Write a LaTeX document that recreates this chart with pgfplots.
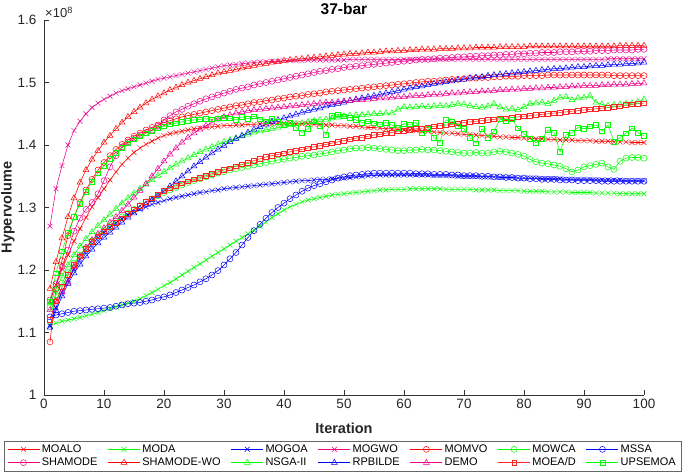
\documentclass[border=0pt]{standalone}
\usepackage{pgfplots}
\usepackage{pgfplotstable}
\usepackage{fontspec}
\setmainfont{Liberation Sans}
\pgfplotsset{compat=1.18}

\pgfplotstableread{
it moalo momvo shwo moead
1 1.150 1.085 1.170 1.120
2 1.176 1.170 1.213 1.150
3 1.201 1.215 1.251 1.173
4 1.224 1.255 1.285 1.192
5 1.246 1.285 1.315 1.208
6 1.266 1.308 1.340 1.222
7 1.284 1.328 1.360 1.234
8 1.301 1.345 1.377 1.245
9 1.316 1.360 1.391 1.254
10 1.330 1.372 1.404 1.262
11 1.344 1.383 1.415 1.269
12 1.357 1.393 1.426 1.276
13 1.369 1.401 1.436 1.283
14 1.379 1.408 1.445 1.290
15 1.388 1.414 1.453 1.297
16 1.395 1.419 1.460 1.303
17 1.401 1.424 1.467 1.309
18 1.406 1.428 1.473 1.315
19 1.411 1.432 1.478 1.321
20 1.415 1.436 1.483 1.327
21 1.418 1.439 1.488 1.331
22 1.420 1.442 1.492 1.335
23 1.422 1.445 1.496 1.339
24 1.424 1.447 1.500 1.342
25 1.426 1.449 1.503 1.345
26 1.427 1.451 1.506 1.348
27 1.428 1.453 1.509 1.351
28 1.429 1.455 1.512 1.354
29 1.430 1.457 1.515 1.357
30 1.431 1.459 1.517 1.360
31 1.431 1.461 1.519 1.363
32 1.432 1.463 1.521 1.366
33 1.432 1.464 1.523 1.369
34 1.433 1.466 1.525 1.372
35 1.433 1.468 1.527 1.375
36 1.434 1.469 1.529 1.378
37 1.434 1.471 1.530 1.381
38 1.434 1.472 1.532 1.383
39 1.435 1.474 1.533 1.385
40 1.435 1.475 1.535 1.387
41 1.435 1.477 1.536 1.389
42 1.434 1.478 1.537 1.391
43 1.434 1.479 1.538 1.393
44 1.434 1.481 1.539 1.395
45 1.433 1.482 1.540 1.397
46 1.433 1.483 1.541 1.399
47 1.432 1.485 1.542 1.401
48 1.432 1.486 1.543 1.403
49 1.431 1.487 1.544 1.405
50 1.431 1.488 1.545 1.407
51 1.430 1.489 1.546 1.409
52 1.430 1.490 1.546 1.411
53 1.429 1.491 1.547 1.412
54 1.428 1.492 1.548 1.414
55 1.428 1.493 1.548 1.416
56 1.427 1.494 1.549 1.417
57 1.426 1.495 1.550 1.419
58 1.426 1.496 1.550 1.420
59 1.425 1.497 1.551 1.422
60 1.424 1.498 1.551 1.423
61 1.424 1.499 1.552 1.424
62 1.423 1.500 1.552 1.426
63 1.422 1.501 1.553 1.427
64 1.422 1.502 1.553 1.428
65 1.421 1.502 1.553 1.430
66 1.420 1.503 1.554 1.431
67 1.419 1.504 1.554 1.432
68 1.419 1.505 1.554 1.433
69 1.418 1.505 1.555 1.435
70 1.417 1.506 1.555 1.436
71 1.417 1.507 1.555 1.437
72 1.416 1.507 1.556 1.438
73 1.415 1.508 1.556 1.439
74 1.415 1.508 1.556 1.440
75 1.414 1.509 1.556 1.441
76 1.413 1.509 1.557 1.442
77 1.413 1.510 1.557 1.443
78 1.412 1.510 1.557 1.444
79 1.412 1.510 1.557 1.445
80 1.411 1.511 1.557 1.446
81 1.411 1.511 1.558 1.447
82 1.410 1.511 1.558 1.448
83 1.410 1.511 1.558 1.449
84 1.409 1.512 1.558 1.450
85 1.409 1.512 1.558 1.451
86 1.408 1.512 1.558 1.452
87 1.408 1.512 1.558 1.453
88 1.408 1.512 1.558 1.454
89 1.407 1.512 1.558 1.455
90 1.407 1.512 1.558 1.456
91 1.407 1.512 1.558 1.457
92 1.406 1.512 1.558 1.458
93 1.406 1.512 1.558 1.459
94 1.406 1.512 1.558 1.460
95 1.405 1.511 1.558 1.461
96 1.405 1.511 1.559 1.462
97 1.405 1.511 1.559 1.464
98 1.404 1.511 1.559 1.465
99 1.404 1.511 1.559 1.466
100 1.404 1.511 1.559 1.467
}\tabred

\pgfplotstableread{
it moda mowca nsga upse
1 1.112 1.140 1.147 1.150
2 1.115 1.160 1.170 1.195
3 1.118 1.179 1.190 1.230
4 1.120 1.196 1.208 1.260
5 1.122 1.211 1.224 1.285
6 1.124 1.224 1.238 1.306
7 1.127 1.236 1.250 1.325
8 1.129 1.246 1.261 1.341
9 1.132 1.255 1.271 1.355
10 1.135 1.263 1.280 1.367
11 1.138 1.271 1.289 1.378
12 1.141 1.278 1.298 1.388
13 1.144 1.285 1.307 1.396
14 1.147 1.291 1.315 1.403
15 1.150 1.297 1.323 1.409
16 1.154 1.303 1.330 1.414
17 1.159 1.309 1.337 1.419
18 1.164 1.314 1.344 1.423
19 1.169 1.319 1.351 1.427
20 1.175 1.324 1.357 1.430
21 1.180 1.328 1.363 1.433
22 1.186 1.332 1.369 1.435
23 1.192 1.336 1.374 1.437
24 1.198 1.340 1.379 1.439
25 1.204 1.343 1.384 1.440
26 1.210 1.346 1.389 1.441
27 1.216 1.349 1.393 1.442
28 1.222 1.352 1.397 1.441
29 1.228 1.355 1.401 1.443
30 1.234 1.357 1.405 1.444
31 1.240 1.360 1.408 1.443
32 1.246 1.362 1.411 1.440
33 1.252 1.364 1.414 1.445
34 1.258 1.366 1.417 1.442
35 1.264 1.368 1.420 1.446
36 1.270 1.370 1.422 1.441
37 1.277 1.372 1.424 1.438
38 1.284 1.374 1.426 1.443
39 1.290 1.376 1.428 1.437
40 1.296 1.377 1.430 1.432
41 1.301 1.379 1.432 1.436
42 1.305 1.380 1.434 1.428
43 1.309 1.382 1.435 1.420
44 1.312 1.383 1.437 1.426
45 1.314 1.384 1.439 1.438
46 1.316 1.386 1.440 1.431
47 1.318 1.387 1.441 1.416
48 1.320 1.389 1.443 1.447
49 1.321 1.391 1.444 1.449
50 1.322 1.392 1.446 1.446
51 1.323 1.394 1.447 1.444
52 1.324 1.395 1.448 1.440
53 1.325 1.395 1.448 1.436
54 1.326 1.396 1.449 1.438
55 1.327 1.395 1.450 1.435
56 1.328 1.394 1.450 1.433
57 1.328 1.393 1.451 1.436
58 1.329 1.392 1.451 1.432
59 1.329 1.391 1.457 1.428
60 1.329 1.391 1.461 1.434
61 1.330 1.392 1.460 1.433
62 1.330 1.392 1.461 1.436
63 1.330 1.393 1.462 1.419
64 1.330 1.392 1.461 1.426
65 1.330 1.392 1.462 1.412
66 1.330 1.391 1.463 1.404
67 1.329 1.390 1.462 1.440
68 1.329 1.389 1.464 1.438
69 1.329 1.388 1.466 1.430
70 1.329 1.387 1.465 1.426
71 1.329 1.387 1.463 1.412
72 1.328 1.388 1.461 1.403
73 1.328 1.387 1.460 1.426
74 1.328 1.387 1.462 1.412
75 1.328 1.389 1.466 1.422
76 1.327 1.390 1.461 1.441
77 1.327 1.389 1.457 1.438
78 1.327 1.387 1.458 1.441
79 1.327 1.385 1.456 1.427
80 1.326 1.382 1.461 1.418
81 1.326 1.377 1.466 1.410
82 1.326 1.373 1.467 1.404
83 1.326 1.371 1.468 1.410
84 1.325 1.370 1.466 1.424
85 1.325 1.368 1.471 1.420
86 1.325 1.366 1.476 1.389
87 1.325 1.362 1.477 1.416
88 1.324 1.357 1.472 1.420
89 1.324 1.360 1.475 1.428
90 1.324 1.365 1.476 1.426
91 1.324 1.367 1.479 1.430
92 1.323 1.369 1.468 1.432
93 1.323 1.371 1.465 1.422
94 1.323 1.365 1.463 1.432
95 1.323 1.361 1.464 1.405
96 1.322 1.374 1.465 1.412
97 1.322 1.379 1.466 1.419
98 1.322 1.380 1.467 1.427
99 1.322 1.380 1.469 1.420
100 1.322 1.379 1.473 1.415
}\tabgreen

\pgfplotstableread{
it mogoa mssa rpb
1 1.110 1.125 1.108
2 1.140 1.128 1.135
3 1.165 1.130 1.158
4 1.185 1.132 1.178
5 1.202 1.134 1.195
6 1.217 1.135 1.209
7 1.230 1.136 1.222
8 1.241 1.137 1.233
9 1.251 1.138 1.243
10 1.260 1.139 1.252
11 1.268 1.140 1.260
12 1.275 1.142 1.268
13 1.282 1.144 1.276
14 1.288 1.146 1.284
15 1.293 1.147 1.291
16 1.297 1.148 1.298
17 1.301 1.150 1.305
18 1.305 1.152 1.312
19 1.308 1.155 1.319
20 1.311 1.157 1.326
21 1.314 1.160 1.334
22 1.316 1.164 1.342
23 1.318 1.168 1.350
24 1.320 1.172 1.358
25 1.322 1.176 1.366
26 1.324 1.181 1.373
27 1.325 1.186 1.380
28 1.327 1.192 1.387
29 1.328 1.199 1.393
30 1.330 1.208 1.399
31 1.331 1.218 1.405
32 1.332 1.228 1.410
33 1.333 1.240 1.415
34 1.334 1.252 1.420
35 1.335 1.263 1.425
36 1.336 1.273 1.429
37 1.337 1.283 1.433
38 1.338 1.292 1.437
39 1.339 1.300 1.440
40 1.340 1.307 1.443
41 1.341 1.314 1.446
42 1.342 1.320 1.449
43 1.343 1.326 1.452
44 1.343 1.331 1.455
45 1.344 1.335 1.457
46 1.345 1.338 1.459
47 1.345 1.341 1.462
48 1.346 1.344 1.464
49 1.347 1.347 1.466
50 1.347 1.349 1.468
51 1.348 1.351 1.471
52 1.349 1.352 1.473
53 1.350 1.353 1.475
54 1.351 1.354 1.477
55 1.351 1.355 1.479
56 1.352 1.355 1.481
57 1.352 1.355 1.483
58 1.352 1.355 1.485
59 1.352 1.355 1.487
60 1.352 1.355 1.489
61 1.352 1.355 1.491
62 1.352 1.354 1.493
63 1.352 1.354 1.494
64 1.352 1.354 1.496
65 1.351 1.353 1.498
66 1.351 1.353 1.499
67 1.351 1.353 1.501
68 1.351 1.352 1.502
69 1.350 1.352 1.504
70 1.350 1.351 1.505
71 1.350 1.351 1.507
72 1.350 1.351 1.508
73 1.349 1.350 1.509
74 1.349 1.350 1.511
75 1.349 1.349 1.512
76 1.348 1.349 1.513
77 1.348 1.348 1.514
78 1.348 1.348 1.515
79 1.347 1.347 1.516
80 1.347 1.347 1.517
81 1.347 1.346 1.518
82 1.347 1.346 1.519
83 1.346 1.345 1.520
84 1.346 1.345 1.521
85 1.346 1.345 1.522
86 1.346 1.344 1.522
87 1.345 1.344 1.523
88 1.345 1.344 1.524
89 1.345 1.343 1.525
90 1.345 1.343 1.525
91 1.345 1.343 1.526
92 1.344 1.343 1.527
93 1.344 1.342 1.527
94 1.344 1.342 1.528
95 1.344 1.342 1.529
96 1.344 1.342 1.529
97 1.343 1.342 1.530
98 1.343 1.342 1.530
99 1.343 1.342 1.531
100 1.343 1.342 1.532
}\tabblue

\pgfplotstableread{
it mogwo shamode demo
1 1.270 1.152 1.136
2 1.330 1.178 1.150
3 1.367 1.205 1.165
4 1.400 1.232 1.180
5 1.423 1.262 1.205
6 1.438 1.283 1.222
7 1.450 1.297 1.236
8 1.460 1.308 1.248
9 1.467 1.322 1.258
10 1.473 1.343 1.267
11 1.478 1.365 1.276
12 1.483 1.383 1.285
13 1.487 1.397 1.295
14 1.490 1.405 1.305
15 1.493 1.411 1.316
16 1.496 1.416 1.327
17 1.499 1.420 1.338
18 1.502 1.424 1.350
19 1.505 1.430 1.362
20 1.507 1.440 1.374
21 1.509 1.447 1.385
22 1.511 1.453 1.395
23 1.513 1.457 1.404
24 1.515 1.462 1.412
25 1.517 1.466 1.419
26 1.519 1.470 1.425
27 1.521 1.474 1.431
28 1.523 1.477 1.436
29 1.525 1.480 1.441
30 1.527 1.483 1.445
31 1.528 1.486 1.448
32 1.529 1.489 1.451
33 1.530 1.491 1.453
34 1.531 1.493 1.455
35 1.532 1.496 1.456
36 1.533 1.498 1.457
37 1.533 1.500 1.458
38 1.534 1.502 1.459
39 1.534 1.504 1.460
40 1.535 1.506 1.461
41 1.535 1.508 1.462
42 1.535 1.510 1.463
43 1.535 1.512 1.464
44 1.536 1.514 1.465
45 1.536 1.516 1.466
46 1.536 1.518 1.467
47 1.536 1.519 1.468
48 1.536 1.521 1.468
49 1.536 1.522 1.469
50 1.536 1.524 1.470
51 1.537 1.525 1.471
52 1.537 1.526 1.472
53 1.537 1.527 1.472
54 1.537 1.528 1.473
55 1.537 1.529 1.474
56 1.537 1.530 1.475
57 1.537 1.531 1.475
58 1.537 1.532 1.476
59 1.537 1.533 1.477
60 1.537 1.534 1.477
61 1.537 1.535 1.478
62 1.537 1.536 1.479
63 1.537 1.537 1.479
64 1.537 1.537 1.480
65 1.537 1.538 1.481
66 1.537 1.539 1.481
67 1.537 1.539 1.482
68 1.537 1.540 1.483
69 1.537 1.541 1.483
70 1.537 1.541 1.484
71 1.537 1.542 1.485
72 1.537 1.542 1.485
73 1.537 1.543 1.486
74 1.537 1.543 1.486
75 1.537 1.544 1.487
76 1.537 1.544 1.488
77 1.537 1.545 1.488
78 1.537 1.545 1.489
79 1.537 1.546 1.489
80 1.537 1.546 1.490
81 1.537 1.547 1.490
82 1.537 1.547 1.491
83 1.537 1.548 1.491
84 1.537 1.548 1.492
85 1.537 1.548 1.492
86 1.537 1.549 1.493
87 1.537 1.549 1.493
88 1.537 1.549 1.494
89 1.537 1.550 1.494
90 1.537 1.550 1.495
91 1.537 1.550 1.495
92 1.537 1.551 1.495
93 1.537 1.551 1.496
94 1.538 1.551 1.496
95 1.538 1.552 1.497
96 1.538 1.552 1.497
97 1.538 1.552 1.497
98 1.538 1.552 1.498
99 1.538 1.553 1.498
100 1.538 1.553 1.499
}\tabmag

\begin{document}
\begin{tikzpicture}
\begin{axis}[
  name=ax,
  at={(0pt,0pt)}, anchor=south west,
  scale only axis,
  width=600pt, height=375pt,
  xmin=0, xmax=100, ymin=1, ymax=1.6,
  xtick={0,10,20,30,40,50,60,70,80,90,100},
  ytick={1,1.1,1.2,1.3,1.4,1.5,1.6},
  scaled y ticks=false,
  /pgf/number format/assume math mode=true,
  axis x line*=bottom, axis y line*=left,
  axis line style={black!80, line width=0.6pt, -},
  every outer x axis line/.append style={-},
  every outer y axis line/.append style={-},
  every inner x axis line/.append style={-},
  every inner y axis line/.append style={-},
  tick align=inside,
  major tick length=5pt,
  tick style={black!80, line width=0.6pt},
  ticklabel style={font=\fontsize{13.5}{14}\selectfont, text=black!85},
  yticklabel style={xshift=-4pt},
  xticklabel style={yshift=-1pt},
  xlabel={Iteration},
  ylabel={Hypervolume},
  xlabel style={font=\fontsize{14.5}{15}\selectfont\bfseries, text=black!85, at={(axis description cs:0.5,0)}, anchor=center, yshift=-33pt},
  ylabel style={font=\fontsize{14.5}{15}\selectfont\bfseries, text=black!85, at={(axis description cs:-0.06,0.5)}, anchor=center},
  title={37-bar},
  title style={font=\fontsize{15.5}{16}\selectfont\bfseries, at={(axis description cs:0.5,1)}, anchor=center, yshift=5pt},
  legend columns=7,
  legend cell align=left,
  legend style={at={(axis description cs:0.5,0)}, anchor=north, yshift=-46pt, xshift=-1.5pt,
    draw=black!60, line width=0.5pt, font=\fontsize{11}{12}\selectfont,
    inner xsep=3pt, inner ysep=1.5pt,
    /tikz/every even column/.append style={column sep=8.4pt}},
  legend image code/.code={\draw[mark repeat=2,mark phase=2] plot coordinates {(0pt,0pt) (16pt,0pt) (32pt,0pt)};},
  every axis plot/.append style={line width=0.55pt, mark options={solid, line width=0.5pt}},
]
\addplot[color=red, mark=x, mark size=3.5pt] table[x=it,y=moalo]{\tabred};
\addlegendentry{MOALO}
\addplot[color=green, mark=x, mark size=3.5pt] table[x=it,y=moda]{\tabgreen};
\addlegendentry{MODA}
\addplot[color=blue, mark=x, mark size=3.5pt] table[x=it,y=mogoa]{\tabblue};
\addlegendentry{MOGOA}
\addplot[color=magenta, mark=x, mark size=3.5pt] table[x=it,y=mogwo]{\tabmag};
\addlegendentry{MOGWO}
\addplot[color=red, mark=o, mark size=3pt] table[x=it,y=momvo]{\tabred};
\addlegendentry{MOMVO}
\addplot[color=green, mark=o, mark size=3pt] table[x=it,y=mowca]{\tabgreen};
\addlegendentry{MOWCA}
\addplot[color=blue, mark=o, mark size=3pt] table[x=it,y=mssa]{\tabblue};
\addlegendentry{MSSA}
\addplot[color=magenta, mark=o, mark size=3pt] table[x=it,y=shamode]{\tabmag};
\addlegendentry{SHAMODE}
\addplot[color=red, mark=triangle, mark size=3.4pt] table[x=it,y=shwo]{\tabred};
\addlegendentry{SHAMODE-WO}
\addplot[color=green, mark=triangle, mark size=3.4pt] table[x=it,y=nsga]{\tabgreen};
\addlegendentry{NSGA-II}
\addplot[color=blue, mark=triangle, mark size=3.4pt] table[x=it,y=rpb]{\tabblue};
\addlegendentry{RPBILDE}
\addplot[color=magenta, mark=triangle, mark size=3.4pt] table[x=it,y=demo]{\tabmag};
\addlegendentry{DEMO}
\addplot[color=red!85, mark=square, mark size=2.3pt] table[x=it,y=moead]{\tabred};
\addlegendentry{MOEA/D}
\addplot[color=green, mark=square, mark size=2.3pt] table[x=it,y=upse]{\tabgreen};
\addlegendentry{UPSEMOA}
\end{axis}
\node[anchor=south west, inner sep=0pt, font=\fontsize{13}{13}\selectfont, text=black!85] at (1pt,377pt) {×10\textsuperscript{8}};
\pgfresetboundingbox
\path (-44pt,-81pt) rectangle (641pt,395pt);
\end{tikzpicture}
\end{document}
